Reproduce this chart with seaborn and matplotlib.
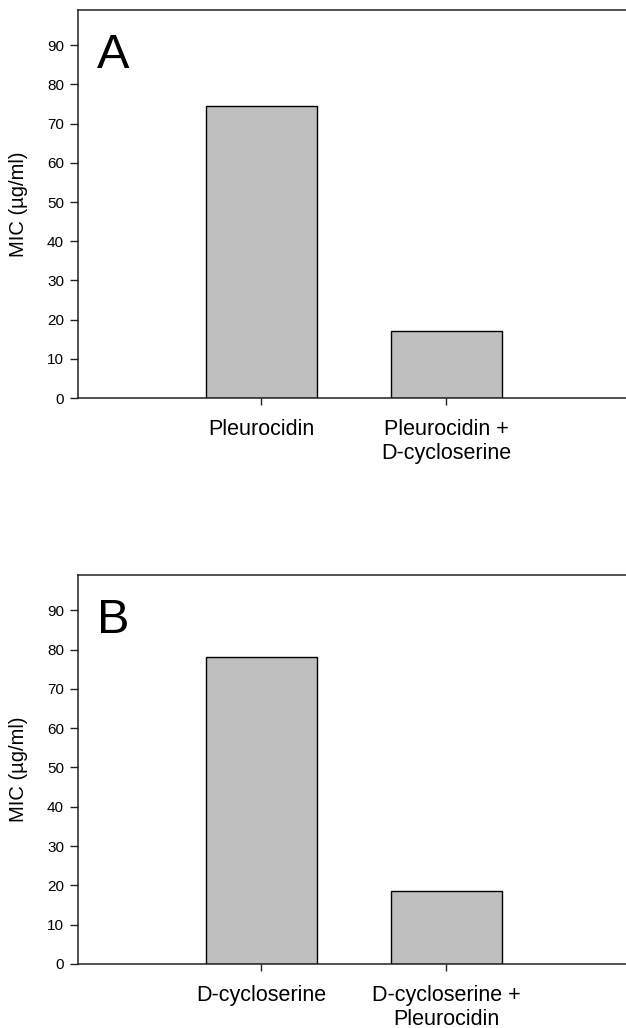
import seaborn as sns
import matplotlib.pyplot as plt

# panel A
cats_a = ["Pleurocidin", "Pleurocidin +\nD-cycloserine"]
mic_a = [74.5, 17.0]
# panel B
cats_b = ["D-cycloserine", "D-cycloserine +\nPleurocidin"]
mic_b = [78.0, 18.5]

yticks = [0, 10, 20, 30, 40, 50, 60, 70, 80, 90]

sns.set_style("ticks")
plt.rcParams["font.family"] = ["Liberation Sans", "DejaVu Sans"]
plt.rcParams["text.color"] = "black"

fig = plt.figure(figsize=(6.26, 10.28), dpi=100)
ax_a = fig.add_axes([0.1246, 0.6128, 0.8754, 0.3775])
ax_b = fig.add_axes([0.1246, 0.0623, 0.8754, 0.3784])


def draw(ax, cats, vals, letter):
    sns.barplot(x=cats, y=vals, ax=ax, color="#bfbfbf", saturation=1,
                edgecolor="black", linewidth=1.0, width=0.6)
    ax.set_xlim(-0.99, 1.973)
    ax.set_ylim(0, 99)
    ax.set_yticks(yticks)
    ax.tick_params(axis="y", labelsize=11, length=5.5, width=1, pad=4.5, colors="#222222",
                   labelcolor="black")
    ax.tick_params(axis="x", labelsize=15.5, length=5, width=1, pad=10, colors="#222222",
                   labelcolor="black")
    ax.set_ylabel("MIC (µg/ml)", fontsize=14.5, color="black")
    ax.yaxis.set_label_coords(-0.091, 0.5)
    ax.set_xlabel("")
    for side in ["left", "top", "bottom"]:
        ax.spines[side].set_visible(True)
        ax.spines[side].set_linewidth(1.1)
        ax.spines[side].set_color("#222222")
    ax.spines["right"].set_visible(False)
    ax.text(0.035, 0.85, letter, transform=ax.transAxes, fontsize=35,
            va="baseline", ha="left", color="black")


draw(ax_a, cats_a, mic_a, "A")
draw(ax_b, cats_b, mic_b, "B")

fig.savefig("out.png", dpi=100)
